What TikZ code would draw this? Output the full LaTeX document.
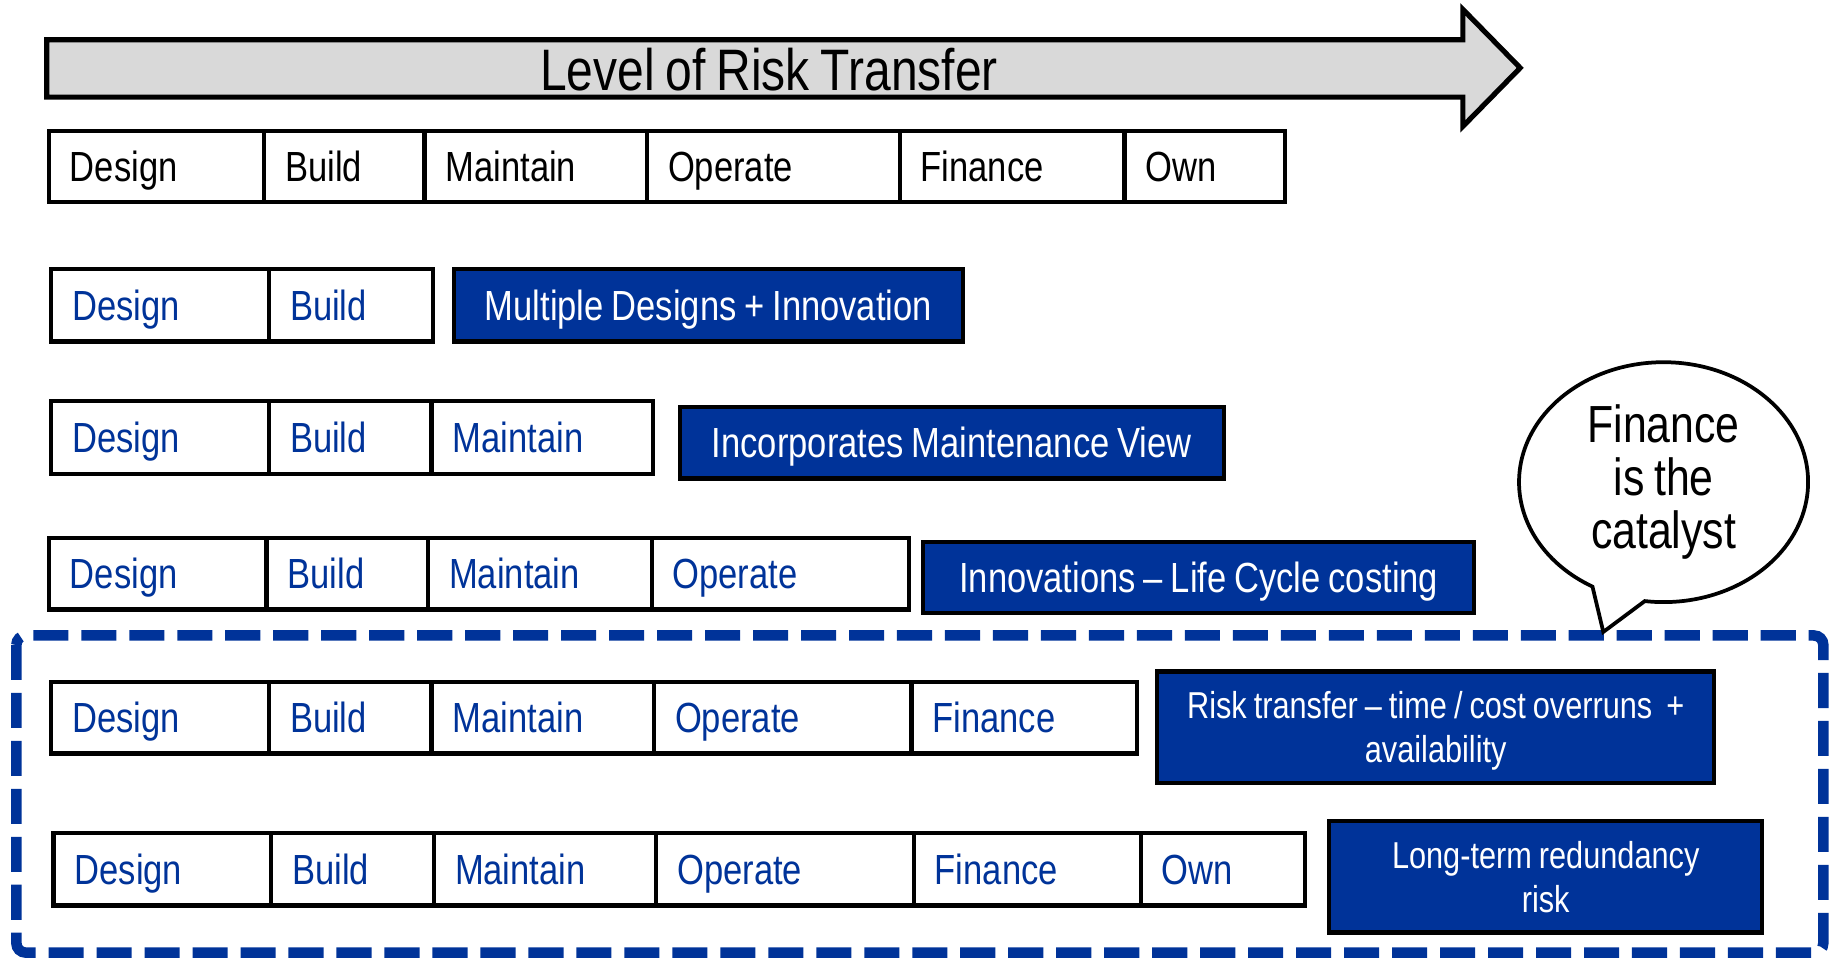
\documentclass[tikz,border=0pt]{standalone}
\usepackage{fontspec}
\setmainfont{Liberation Sans}[FakeStretch=0.82,WordSpace=0.82]
\usetikzlibrary{shapes.callouts}
\definecolor{pppblue}{HTML}{003399}
\definecolor{arrowgray}{HTML}{D9D9D9}
% cell helper: style, x1, x2, y1, y2, node name, text (left aligned)
\newcommand\mkcell[7]{%
  \pgfmathsetmacro\mkw{(#3-#2)*0.5-18}%
  \pgfmathsetmacro\mkh{(#5-#4)*0.5}%
  \node[#1, anchor=north west, text width=\mkw pt, minimum height=\mkh pt] (#6) at (#2,#4) {#7};}
% box helper: style, x1, x2, y1, y2, node name, text (centred)
\newcommand\mkbox[7]{%
  \pgfmathsetmacro\mkw{(#3-#2)*0.5}%
  \pgfmathsetmacro\mkh{(#5-#4)*0.5}%
  \node[#1, anchor=north west, minimum width=\mkw pt, minimum height=\mkh pt] (#6) at (#2,#4) {#7};}
\begin{document}
\begin{tikzpicture}[x=0.5pt,y=-0.5pt,
  cellbase/.style={draw=black, line width=1.8pt, inner xsep=9pt, inner ysep=0pt},
  cell/.style={cellbase, fill=white, text=black, align=left, font=\fontsize{18}{21}\selectfont, text height=12.9pt, text depth=0pt},
  bluecell/.style={cell, text=pppblue},
  bluebox/.style={cellbase, inner xsep=2pt, fill=pppblue, text=white, align=center, font=\fontsize{18}{21}\selectfont, text height=12.9pt, text depth=0pt},
  twoline/.style={cellbase, inner xsep=2pt, fill=pppblue, text=white, align=center, font=\fontsize{16}{19}\selectfont, text height=30.5pt, text depth=0pt},
  bubble/.style={ellipse callout, draw=black, line width=1.6pt, fill=white, inner sep=0pt, align=center, font=\fontsize{22.3}{22.5}\selectfont},
  riskarrow/.style={draw=black, line width=2.2pt, fill=arrowgray, line join=miter},
  dashframe/.style={draw=pppblue, line width=4.5pt, dash pattern=on 15pt off 5.5pt, rounded corners=4pt}
]
\useasboundingbox (0,0) rectangle (1568,819);

% big arrow
\draw[riskarrow] (40,34) -- (1250,34) -- (1250,8) -- (1299,58) -- (1250,108) -- (1250,83) -- (40,83) -- cycle;
\node[font=\fontsize{25}{26}\selectfont, anchor=base, inner sep=0pt] (title) at (657,77) {Level of Risk Transfer};

% row 1
\mkcell{cell}{40}{224}{110}{171}{r1a}{Design}
\mkcell{cell}{224}{361}{110}{171}{r1b}{Build}
\mkcell{cell}{361}{551}{110}{171}{r1c}{Maintain}
\mkcell{cell}{551}{767}{110}{171}{r1d}{Operate}
\mkcell{cell}{767}{959}{110}{171}{r1e}{Finance}
\mkcell{cell}{959}{1096}{110}{171}{r1f}{Own}

% row 2
\mkcell{bluecell}{42}{228}{228}{290}{r2a}{Design}
\mkcell{bluecell}{228}{368}{228}{290}{r2b}{Build}
\mkbox{bluebox}{386}{821}{228}{290}{r2x}{Multiple Designs + Innovation}

% row 3
\mkcell{bluecell}{42}{228}{341}{403}{r3a}{Design}
\mkcell{bluecell}{228}{367}{341}{403}{r3b}{Build}
\mkcell{bluecell}{367}{556}{341}{403}{r3c}{Maintain}
\mkbox{bluebox}{579}{1044}{346}{407}{r3x}{Incorporates Maintenance View}

% row 4
\mkcell{bluecell}{40}{226}{458}{519}{r4a}{Design}
\mkcell{bluecell}{226}{364}{458}{519}{r4b}{Build}
\mkcell{bluecell}{364}{555}{458}{519}{r4c}{Maintain}
\mkcell{bluecell}{555}{775}{458}{519}{r4d}{Operate}
\mkbox{bluebox}{787}{1258}{461}{522}{r4x}{Innovations – Life Cycle costing}

% dashed frame
\draw[dashframe] (14,543) rectangle (1558,814);

% row 5
\mkcell{bluecell}{42}{228}{581}{642}{r5a}{Design}
\mkcell{bluecell}{228}{367}{581}{642}{r5b}{Build}
\mkcell{bluecell}{367}{557}{581}{642}{r5c}{Maintain}
\mkcell{bluecell}{557}{777}{581}{642}{r5d}{Operate}
\mkcell{bluecell}{777}{970}{581}{642}{r5e}{Finance}
\mkbox{twoline}{987}{1463}{572}{667}{r5x}{Risk transfer – time / cost overruns \ +\\availability}

% row 6
\mkcell{bluecell}{44}{230}{710}{772}{r6a}{Design}
\mkcell{bluecell}{230}{369}{710}{772}{r6b}{Build}
\mkcell{bluecell}{369}{559}{710}{772}{r6c}{Maintain}
\mkcell{bluecell}{559}{779}{710}{772}{r6d}{Operate}
\mkcell{bluecell}{779}{973}{710}{772}{r6e}{Finance}
\mkcell{bluecell}{973}{1113}{710}{772}{r6f}{Own}
\mkbox{twoline}{1134}{1504}{700}{795}{r6x}{Long-term redundancy\\risk}

% speech bubble
\coordinate (tailtip) at (1370,540);
\node[bubble, minimum width=123.5pt, minimum height=102.5pt, callout absolute pointer={(tailtip)}, callout pointer arc=22] (catalyst) at (1421.5,412) {Finance\\is the\\catalyst};
\end{tikzpicture}
\end{document}
